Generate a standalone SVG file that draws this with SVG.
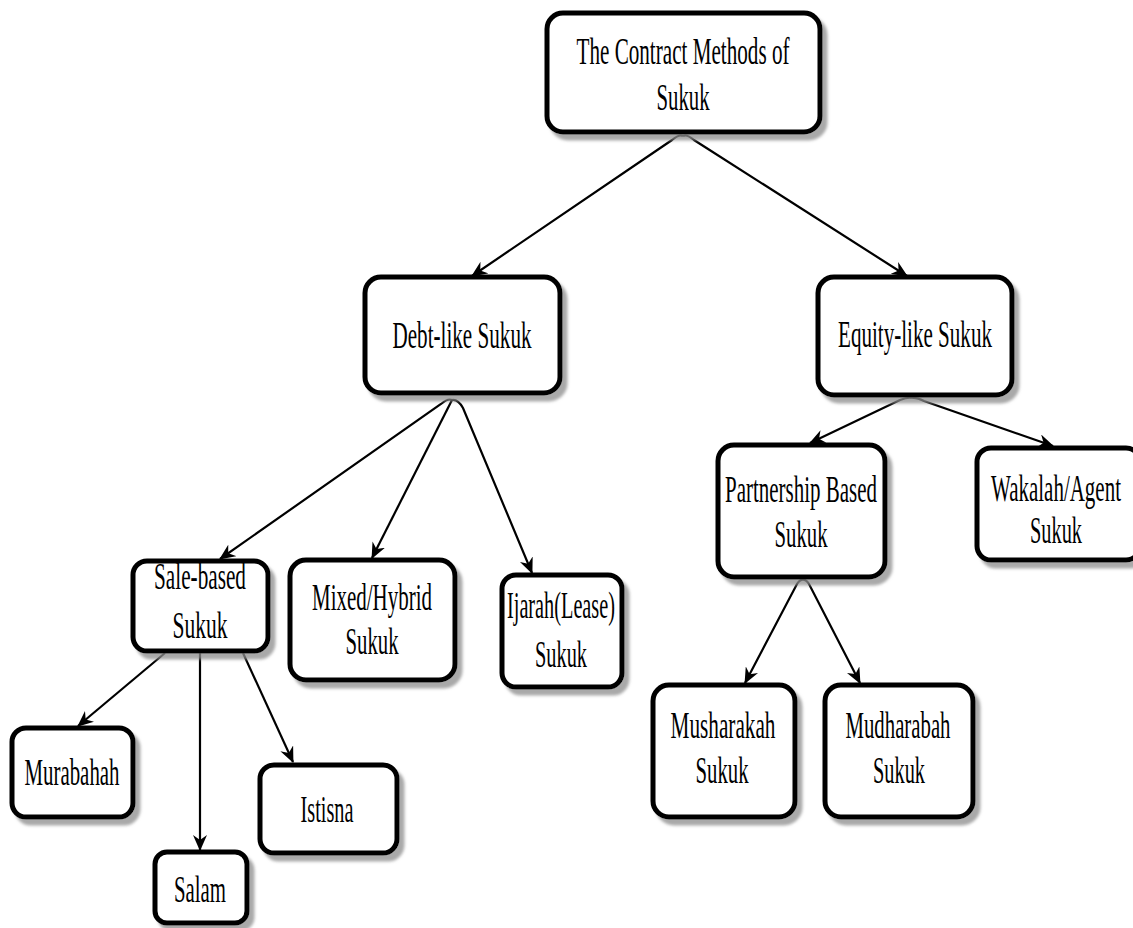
<svg xmlns="http://www.w3.org/2000/svg" width="1133" height="928" viewBox="0 0 1133 928">
  <style>
    .box { fill: #ffffff; stroke: #000000; stroke-width: 5; filter: url(#shadow); }
    .lbl { font-family: "Liberation Serif", "Times New Roman", serif; font-size: 38px; fill: #000000; text-anchor: middle; }
    .edge { fill: none; stroke: #000000; stroke-width: 2.2; marker-end: url(#arrow); }
  </style>
  <defs>
    <filter id="shadow" x="-10%" y="-10%" width="130%" height="130%">
      <feDropShadow dx="5" dy="6" stdDeviation="1.5" flood-color="#8c8c8c" flood-opacity="0.75"/>
    </filter>
    <marker id="arrow" viewBox="0 0 16 14" refX="15" refY="7" markerWidth="16" markerHeight="14" markerUnits="userSpaceOnUse" orient="auto">
      <path d="M0,0 L16,7 L0,14 L5,7 Z" fill="#000000"/>
    </marker>
  </defs>

  <!-- connectors -->
  <g id="connectors">
    <path class="edge" d="M683,136 Q679,134 672,140 L472,276"/>
    <path class="edge" d="M683,136 Q687,134 694,140 L907,276"/>
    <path class="edge" d="M452,400 Q448,398 441,404 L220,559"/>
    <path class="edge" d="M452,400 L372,558"/>
    <path class="edge" d="M452,400 Q458,399 463,408 L532,573"/>
    <path class="edge" d="M912,398 Q908,397 900,400 L810,443"/>
    <path class="edge" d="M912,398 Q916,397 924,401 L1053,446"/>
    <path class="edge" d="M803,580 Q800,579 797,584 L745,683"/>
    <path class="edge" d="M803,580 Q806,579 809,584 L860,683"/>
    <path class="edge" d="M165,653 L78,726"/>
    <path class="edge" d="M200,653 L200,850"/>
    <path class="edge" d="M243,653 L293,762"/>
  </g>

  <!-- nodes -->
  <g id="node-root">
    <rect class="box" x="547" y="13" width="273" height="119" rx="16"/>
    <text class="lbl" x="683" y="64" textLength="213" lengthAdjust="spacingAndGlyphs">The Contract Methods of</text>
    <text class="lbl" x="683" y="110" textLength="53" lengthAdjust="spacingAndGlyphs">Sukuk</text>
  </g>
  <g id="node-debt">
    <rect class="box" x="365" y="277" width="195" height="116" rx="16"/>
    <text class="lbl" x="462" y="348" textLength="139" lengthAdjust="spacingAndGlyphs">Debt-like Sukuk</text>
  </g>
  <g id="node-equity">
    <rect class="box" x="818" y="277" width="194" height="118" rx="16"/>
    <text class="lbl" x="915" y="347" textLength="154" lengthAdjust="spacingAndGlyphs">Equity-like Sukuk</text>
  </g>
  <g id="node-sale">
    <rect class="box" x="133" y="561" width="135" height="90" rx="14"/>
    <text class="lbl" x="200" y="589" textLength="92" lengthAdjust="spacingAndGlyphs">Sale-based</text>
    <text class="lbl" x="200" y="638" textLength="55" lengthAdjust="spacingAndGlyphs">Sukuk</text>
  </g>
  <g id="node-mixed">
    <rect class="box" x="290" y="560" width="165" height="120" rx="16"/>
    <text class="lbl" x="372" y="610" textLength="120" lengthAdjust="spacingAndGlyphs">Mixed/Hybrid</text>
    <text class="lbl" x="372" y="654" textLength="53" lengthAdjust="spacingAndGlyphs">Sukuk</text>
  </g>
  <g id="node-ijarah">
    <rect class="box" x="502" y="575" width="120" height="112" rx="14"/>
    <text class="lbl" x="561" y="618" textLength="108" lengthAdjust="spacingAndGlyphs">Ijarah(Lease)</text>
    <text class="lbl" x="561" y="667" textLength="52" lengthAdjust="spacingAndGlyphs">Sukuk</text>
  </g>
  <g id="node-partnership">
    <rect class="box" x="718" y="445" width="167" height="132" rx="16"/>
    <text class="lbl" x="801" y="502" textLength="152" lengthAdjust="spacingAndGlyphs">Partnership Based</text>
    <text class="lbl" x="801" y="547" textLength="53" lengthAdjust="spacingAndGlyphs">Sukuk</text>
  </g>
  <g id="node-wakalah">
    <rect class="box" x="977" y="448" width="163" height="112" rx="14"/>
    <text class="lbl" x="1056" y="501" textLength="130" lengthAdjust="spacingAndGlyphs">Wakalah/Agent</text>
    <text class="lbl" x="1056" y="543" textLength="52" lengthAdjust="spacingAndGlyphs">Sukuk</text>
  </g>
  <g id="node-murabahah">
    <rect class="box" x="12" y="728" width="121" height="89" rx="14"/>
    <text class="lbl" x="72" y="785" textLength="95" lengthAdjust="spacingAndGlyphs">Murabahah</text>
  </g>
  <g id="node-istisna">
    <rect class="box" x="260" y="765" width="137" height="88" rx="14"/>
    <text class="lbl" x="327" y="822" textLength="53" lengthAdjust="spacingAndGlyphs">Istisna</text>
  </g>
  <g id="node-salam">
    <rect class="box" x="155" y="852" width="92" height="71" rx="12"/>
    <text class="lbl" x="200" y="902" textLength="52" lengthAdjust="spacingAndGlyphs">Salam</text>
  </g>
  <g id="node-musharakah">
    <rect class="box" x="653" y="685" width="142" height="132" rx="16"/>
    <text class="lbl" x="723" y="738" textLength="105" lengthAdjust="spacingAndGlyphs">Musharakah</text>
    <text class="lbl" x="722" y="783" textLength="53" lengthAdjust="spacingAndGlyphs">Sukuk</text>
  </g>
  <g id="node-mudharabah">
    <rect class="box" x="825" y="685" width="148" height="132" rx="16"/>
    <text class="lbl" x="898" y="738" textLength="105" lengthAdjust="spacingAndGlyphs">Mudharabah</text>
    <text class="lbl" x="899" y="783" textLength="52" lengthAdjust="spacingAndGlyphs">Sukuk</text>
  </g>
</svg>
